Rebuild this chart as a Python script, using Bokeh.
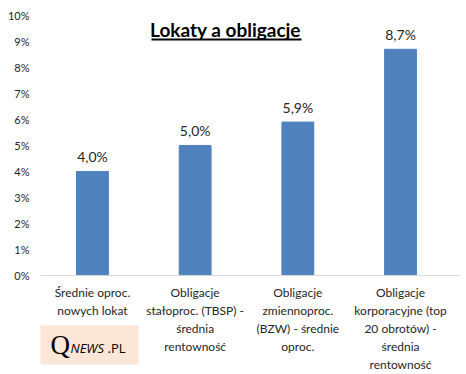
from bokeh.plotting import figure
from bokeh.models import Range1d, FixedTicker, Label, BoxAnnotation, ColumnDataSource, Span
from bokeh.core.properties import value
from bokeh.embed import file_html
from bokeh.resources import INLINE

categories = [
    "Średnie oproc.\nnowych lokat",
    "Obligacje\nstałoproc. (TBSP) -\nśrednia\nrentowność",
    "Obligacje\nzmiennoproc.\n(BZW) - średnie\noproc.",
    "Obligacje\nkorporacyjne (top\n20 obrotów) -\nśrednia\nrentowność",
]
values = [4.0, 5.0, 5.9, 8.7]
value_labels = ["4,0%", "5,0%", "5,9%", "8,7%"]
y_ticks = list(range(0, 11))
y_tick_labels = [f"{t}%" for t in y_ticks]

FONT = "Lato"
xs = list(range(len(categories)))
src = ColumnDataSource(dict(x=xs, top=values, lab=value_labels, cat=categories, zero=[0] * len(xs)))

p = figure(width=466, height=374, output_backend="svg", toolbar_location=None,
           x_range=Range1d(-0.506, 3.584), y_range=Range1d(-3.81, 10),
           x_axis_location=None,
           min_border_left=40, min_border_right=6, min_border_top=15, min_border_bottom=0)
p.outline_line_color = None
p.background_fill_color = "white"
p.border_fill_color = "white"
p.xgrid.visible = False
p.ygrid.visible = False

# baseline (category axis line)
p.add_layout(Span(location=0, dimension="width", line_color="#D9D9D9", line_width=1))

p.vbar(x="x", top="top", width=0.31, source=src, color="#4F81BD")
p.text(x="x", y="top", text="lab", source=src, text_align="center", text_baseline="bottom",
       y_offset=-6, text_font=value(FONT), text_font_size="14px", text_color="#262626")

# category labels under the baseline
p.text(x="x", y="zero", text="cat", source=src, text_align="center", text_baseline="top",
       y_offset=10, text_font=value(FONT), text_font_size="12px", text_color="#262626",
       text_line_height=1.2)

# y axis
p.yaxis.ticker = FixedTicker(ticks=y_ticks)
p.yaxis.major_label_overrides = {t: l for t, l in zip(y_ticks, y_tick_labels)}
p.yaxis.axis_line_color = None
p.yaxis.major_tick_line_color = None
p.yaxis.minor_tick_line_color = None
p.yaxis.major_tick_out = 0
p.yaxis.major_tick_in = 0
p.yaxis.major_label_standoff = 11
p.yaxis.major_label_text_font = FONT
p.yaxis.major_label_text_font_size = "11px"
p.yaxis.major_label_text_color = "#262626"

# title (inside plot, underlined)
p.add_layout(Label(x=185, y=345, x_units="screen", y_units="screen", text="Lokaty a obligacje",
                   text_align="center", text_baseline="middle", text_font=FONT,
                   text_font_style="bold", text_font_size="19px", text_color="black"))
p.add_layout(BoxAnnotation(left=111, right=261, top=336, bottom=334,
                           left_units="screen", right_units="screen", top_units="screen", bottom_units="screen",
                           fill_color="black", fill_alpha=1, line_color=None))

# logo
p.add_layout(BoxAnnotation(left=-2, right=98, top=49, bottom=10,
                           left_units="screen", right_units="screen", top_units="screen", bottom_units="screen",
                           fill_color="#FCE6D7", fill_alpha=1, line_color=None, level="underlay"))
p.add_layout(Label(x=10, y=30, x_units="screen", y_units="screen", text="Q",
                   text_font="Liberation Serif", text_font_size="27px", text_color="black",
                   text_baseline="middle"))
p.add_layout(Label(x=30, y=27, x_units="screen", y_units="screen", text="NEWS",
                   text_font="Open Sans", text_font_style="italic", text_font_size="13px",
                   text_color="black", text_baseline="middle"))
p.add_layout(Label(x=67, y=27, x_units="screen", y_units="screen", text=".PL",
                   text_font="Open Sans", text_font_size="13px",
                   text_color="black", text_baseline="middle"))

open("out.html", "w").write(file_html(p, INLINE))
